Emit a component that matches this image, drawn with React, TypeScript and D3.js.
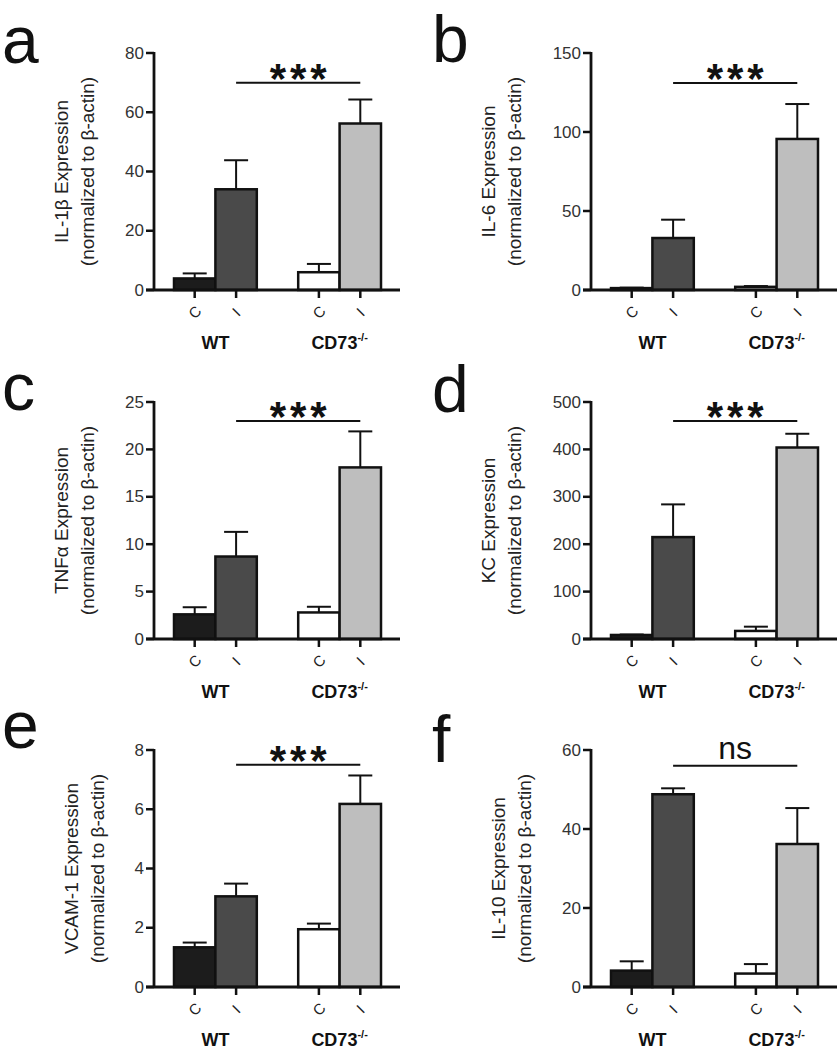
import React from 'react';
import * as d3 from 'd3';

// ---------- data ----------
const panelLetters = ['a', 'b', 'c', 'd', 'e', 'f'];
const yTitles = ['IL-1β Expression', 'IL-6 Expression', 'TNFα Expression', 'KC Expression', 'VCAM-1 Expression', 'IL-10 Expression'];
const yTitle2 = '(normalized to β-actin)';
const yMax = [80, 150, 25, 500, 8, 60];
const yTickStep = [20, 50, 5, 100, 2, 20];
const barKeys = ['WT-C', 'WT-I', 'KO-C', 'KO-I'];
const slots = ['WT-C', 'WT-I', 'gap', 'KO-C', 'KO-I'];
const tickLabels = ['C', 'I', 'C', 'I'];
const groupLabels = ['WT', 'CD73'];
const groupMembers = [['WT-C', 'WT-I'], ['KO-C', 'KO-I']];
const means = [
  [3.9, 34.0, 6.0, 56.2],
  [1.2, 32.9, 2.0, 95.6],
  [2.6, 8.7, 2.8, 18.1],
  [8.5, 215, 17, 404],
  [1.34, 3.06, 1.95, 6.18],
  [4.15, 48.8, 3.4, 36.2],
];
const sems = [
  [1.7, 9.8, 2.8, 8.1],
  [0.3, 11.6, 0.5, 22.1],
  [0.75, 2.6, 0.6, 3.8],
  [1, 69, 9, 29],
  [0.16, 0.43, 0.19, 0.96],
  [2.35, 1.5, 2.4, 9.1],
];
const sigText = ['***', '***', '***', '***', '***', 'ns'];
const sigLevel = [70, 131, 23, 460, 7.5, 56];

// ---------- style ----------
const FONT = 'Liberation Sans, Arial, Helvetica, sans-serif';
const fills: Record<string, string> = { 'WT-C': '#1c1c1c', 'WT-I': '#4a4a4a', 'KO-C': '#ffffff', 'KO-I': '#bebebe' };
const colAxisX = [154, 591];
const rowZeroY = [290, 639, 987];
const plotH = 237;
const letterPos = [[2, 63], [432, 62], [2, 410], [432, 412], [2, 748], [432, 762]];

function Panel({ i }: { i: number }) {
  const col = i % 2;
  const row = Math.floor(i / 2);
  const ax = colAxisX[col];
  const zero = rowZeroY[row];
  const y = d3.scaleLinear().domain([0, yMax[i]]).range([zero, zero - plotH]);
  const x = d3.scaleBand<string>().domain(slots).range([ax + 20, ax + 227]).paddingInner(0).paddingOuter(0);
  const bw = x.bandwidth();
  const ticks = d3.range(0, yMax[i] + 1e-9, yTickStep[i]);
  const digits = String(yMax[i]).length;
  const t1x = ax - 71 - 10 * digits;
  const t2x = t1x + 26;
  const midY = (y(0) + y(yMax[i])) / 2;
  const cx = (k: string) => (x(k) as number) + bw / 2;
  const sigY = y(sigLevel[i]);
  const sx1 = cx('WT-I');
  const sx2 = cx('KO-I');
  const capW = 24;

  return (
    <g>
      <text x={letterPos[i][0]} y={letterPos[i][1]} fontSize={66} fontFamily={FONT} fill="#111">{panelLetters[i]}</text>
      {/* y title */}
      <text transform={`translate(${t1x},${midY}) rotate(-90)`} textAnchor="middle" dominantBaseline="middle" fontSize={19} fontFamily={FONT} fill="#222">{yTitles[i]}</text>
      <text transform={`translate(${t2x},${midY}) rotate(-90)`} textAnchor="middle" dominantBaseline="middle" fontSize={19} fontFamily={FONT} fill="#222">{yTitle2}</text>
      {/* bars */}
      {barKeys.map((k, j) => (
        <g key={k}>
          <line x1={cx(k)} x2={cx(k)} y1={y(means[i][j])} y2={y(means[i][j] + sems[i][j])} stroke="#111" strokeWidth={2} />
          <line x1={cx(k) - capW / 2} x2={cx(k) + capW / 2} y1={y(means[i][j] + sems[i][j])} y2={y(means[i][j] + sems[i][j])} stroke="#111" strokeWidth={2} />
          <rect x={x(k)} y={y(means[i][j])} width={bw} height={y(0) - y(means[i][j])} fill={fills[k]} stroke="#111" strokeWidth={2.5} />
        </g>
      ))}
      {/* y axis */}
      <line x1={ax} x2={ax} y1={y(0)} y2={y(yMax[i]) - 1} stroke="#111" strokeWidth={2.8} />
      {ticks.map((t) => (
        <g key={t}>
          <line x1={ax - 8} x2={ax} y1={y(t)} y2={y(t)} stroke="#111" strokeWidth={2.5} />
          <text x={ax - 10} y={y(t)} textAnchor="end" dominantBaseline="central" fontSize={17} fontFamily={FONT} fill="#333">{t}</text>
        </g>
      ))}
      {/* x axis */}
      <line x1={ax - 8} x2={ax + 246} y1={y(0)} y2={y(0)} stroke="#111" strokeWidth={2.8} />
      {barKeys.map((k, j) => (
        <g key={'t' + k}>
          <line x1={cx(k)} x2={cx(k)} y1={y(0)} y2={y(0) + 8} stroke="#111" strokeWidth={2.5} />
          <text transform={`translate(${cx(k)},${y(0) + 22}) rotate(-45)`} textAnchor="middle" dominantBaseline="central" fontSize={15} fontFamily={FONT} fill="#222">{tickLabels[j]}</text>
        </g>
      ))}
      {groupLabels.map((g, gi) => {
        const gx = (cx(groupMembers[gi][0]) + cx(groupMembers[gi][1])) / 2;
        return (
          <text key={g} x={gx} y={y(0) + 59} textAnchor="middle" fontSize={18} fontWeight="bold" fontFamily={FONT} fill="#111">
            {g}
            {gi === 1 ? <tspan dy={-8} fontSize={11}>-/-</tspan> : null}
          </text>
        );
      })}
      {/* significance */}
      <line x1={sx1} x2={sx2} y1={sigY} y2={sigY} stroke="#111" strokeWidth={2} />
      {sigText[i] === 'ns' ? (
        <text x={(sx1 + sx2) / 2} y={sigY - 7} textAnchor="middle" fontSize={32} fontFamily={FONT} fill="#111">ns</text>
      ) : (
        <text x={(sx1 + sx2) / 2 + 2} y={sigY + 10} textAnchor="middle" fontSize={42} fontWeight="bold" letterSpacing={4} fontFamily={FONT} fill="#111">{sigText[i]}</text>
      )}
    </g>
  );
}

export default function App() {
  return (
    <svg width={838} height={1050} style={{ position: 'absolute', left: 0, top: 0, background: '#fff' }}>
      <rect width={838} height={1050} fill="#fff" />
      {panelLetters.map((_, i) => (
        <Panel key={i} i={i} />
      ))}
    </svg>
  );
}
